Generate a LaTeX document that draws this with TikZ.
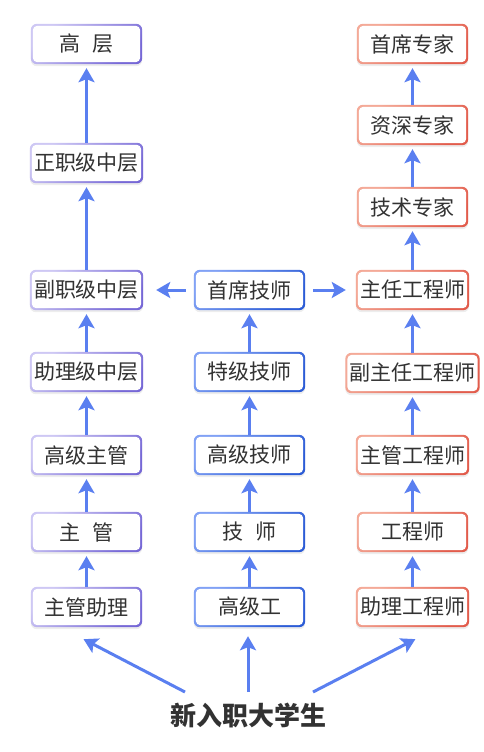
\documentclass[tikz,border=0pt]{standalone}
\usepackage{fontspec}
\newfontfamily\cjk{Noto Sans CJK SC}
\usetikzlibrary{arrows.meta}
\usetikzlibrary{backgrounds}
\definecolor{arrowblue}{RGB}{90,127,240}
\definecolor{textgray}{RGB}{50,50,50}
\definecolor{purpL}{RGB}{206,200,244}
\definecolor{purpD}{RGB}{118,104,214}
\definecolor{blueL}{RGB}{130,162,245}
\definecolor{blueD}{RGB}{44,92,214}
\definecolor{redL}{RGB}{244,170,152}
\definecolor{redD}{RGB}{226,92,76}
\begin{document}
\begin{tikzpicture}[x=1pt,y=-1pt,
    rank/.style={minimum width=111pt,minimum height=40pt,inner xsep=4pt,
      font=\cjk\fontsize{21}{25}\selectfont,text=textgray},
    up/.style={draw=arrowblue,line width=3pt,shorten >=4pt,
      -{Stealth[length=14pt,width=16pt,inset=3pt]}}]
  \def\xl{86.5};
  \def\xm{249.5};
  \def\xr{412.5};
  \useasboundingbox (0,0) rectangle (484,752);
  % left column
  \node[rank] (gc)    at (\xl,44)  {高\hspace{0.6em}层};
  \node[rank] (zzjzc) at (\xl,163) {正职级中层};
  \node[rank] (fzjzc) at (\xl,290) {副职级中层};
  \node[rank] (zljzc) at (\xl,372) {助理级中层};
  \node[rank] (gjzg)  at (\xl,455) {高级主管};
  \node[rank] (zg)    at (\xl,532) {主\hspace{0.6em}管};
  \node[rank] (zgzl)  at (\xl,607) {主管助理};
  % middle column
  \node[rank] (sxjs)  at (\xm,290) {首席技师};
  \node[rank] (tjjs)  at (\xm,372) {特级技师};
  \node[rank] (gjjs)  at (\xm,455) {高级技师};
  \node[rank] (js)    at (\xm,532) {技\hspace{0.6em}师};
  \node[rank] (gjg)   at (\xm,607) {高级工};
  % right column
  \node[rank] (sxzj)  at (\xr,44)  {首席专家};
  \node[rank] (zszj)  at (\xr,125) {资深专家};
  \node[rank] (jszj)  at (\xr,207) {技术专家};
  \node[rank] (zrgcs) at (\xr,290) {主任工程师};
  \node[rank,inner xsep=4pt] (fzrgcs) at (\xr,373) {副主任工程师};
  \node[rank] (zggcs) at (\xr,455) {主管工程师};
  \node[rank] (gcs)   at (\xr,532) {工程师};
  \node[rank] (zlgcs) at (\xr,607) {助理工程师};
  \node[font=\cjk\bfseries\fontsize{26}{30}\selectfont,text=textgray] (xrz) at (248,715) {新入职大学生};
  % frames
  \begin{scope}[on background layer]
    \foreach \n/\ca/\cb in {gc/purpL/purpD,zzjzc/purpL/purpD,fzjzc/purpL/purpD,zljzc/purpL/purpD,gjzg/purpL/purpD,zg/purpL/purpD,zgzl/purpL/purpD,
      sxjs/blueL/blueD,tjjs/blueL/blueD,gjjs/blueL/blueD,js/blueL/blueD,gjg/blueL/blueD,
      sxzj/redL/redD,zszj/redL/redD,jszj/redL/redD,zrgcs/redL/redD,fzrgcs/redL/redD,zggcs/redL/redD,gcs/redL/redD,zlgcs/redL/redD}{
      \fill[black!7,rounded corners=6pt] ([yshift=-2pt]\n.south west) rectangle ([yshift=-2pt]\n.north east);
      \shade[rounded corners=6pt,top color=\ca,bottom color=\cb,shading angle=45] (\n.south west) rectangle (\n.north east);
      \fill[white,rounded corners=4.5pt] ([shift={(2pt,2pt)}]\n.south west) rectangle ([shift={(-2pt,-2pt)}]\n.north east);
    }
  \end{scope}
  % arrows
  \foreach \a/\b in {zgzl/zg,zg/gjzg,gjzg/zljzc,zljzc/fzjzc,fzjzc/zzjzc,zzjzc/gc,
    gjg/js,js/gjjs,gjjs/tjjs,tjjs/sxjs,
    zlgcs/gcs,gcs/zggcs,zggcs/fzrgcs,fzrgcs/zrgcs,zrgcs/jszj,jszj/zszj,zszj/sxzj}
    \draw[up] (\a.north) -- (\b.south);
  \draw[up,shorten <=8pt,shorten >=13pt] (sxjs.west) -- (fzjzc.east);
  \draw[up,shorten <=8pt,shorten >=10pt] (sxjs.east) -- (zrgcs.west);
  \coordinate (tl) at (185,692);
  \coordinate (tm) at (248,692);
  \coordinate (tr) at (313,692);
  \draw[up,shorten >=26pt] (tl) -- ([xshift=-26pt]zgzl.south);
  \draw[up,shorten >=9pt] (tm) -- (tm|-gjg.south);
  \draw[up,shorten >=26pt] (tr) -- ([xshift=26pt]zlgcs.south);
\end{tikzpicture}
\end{document}
